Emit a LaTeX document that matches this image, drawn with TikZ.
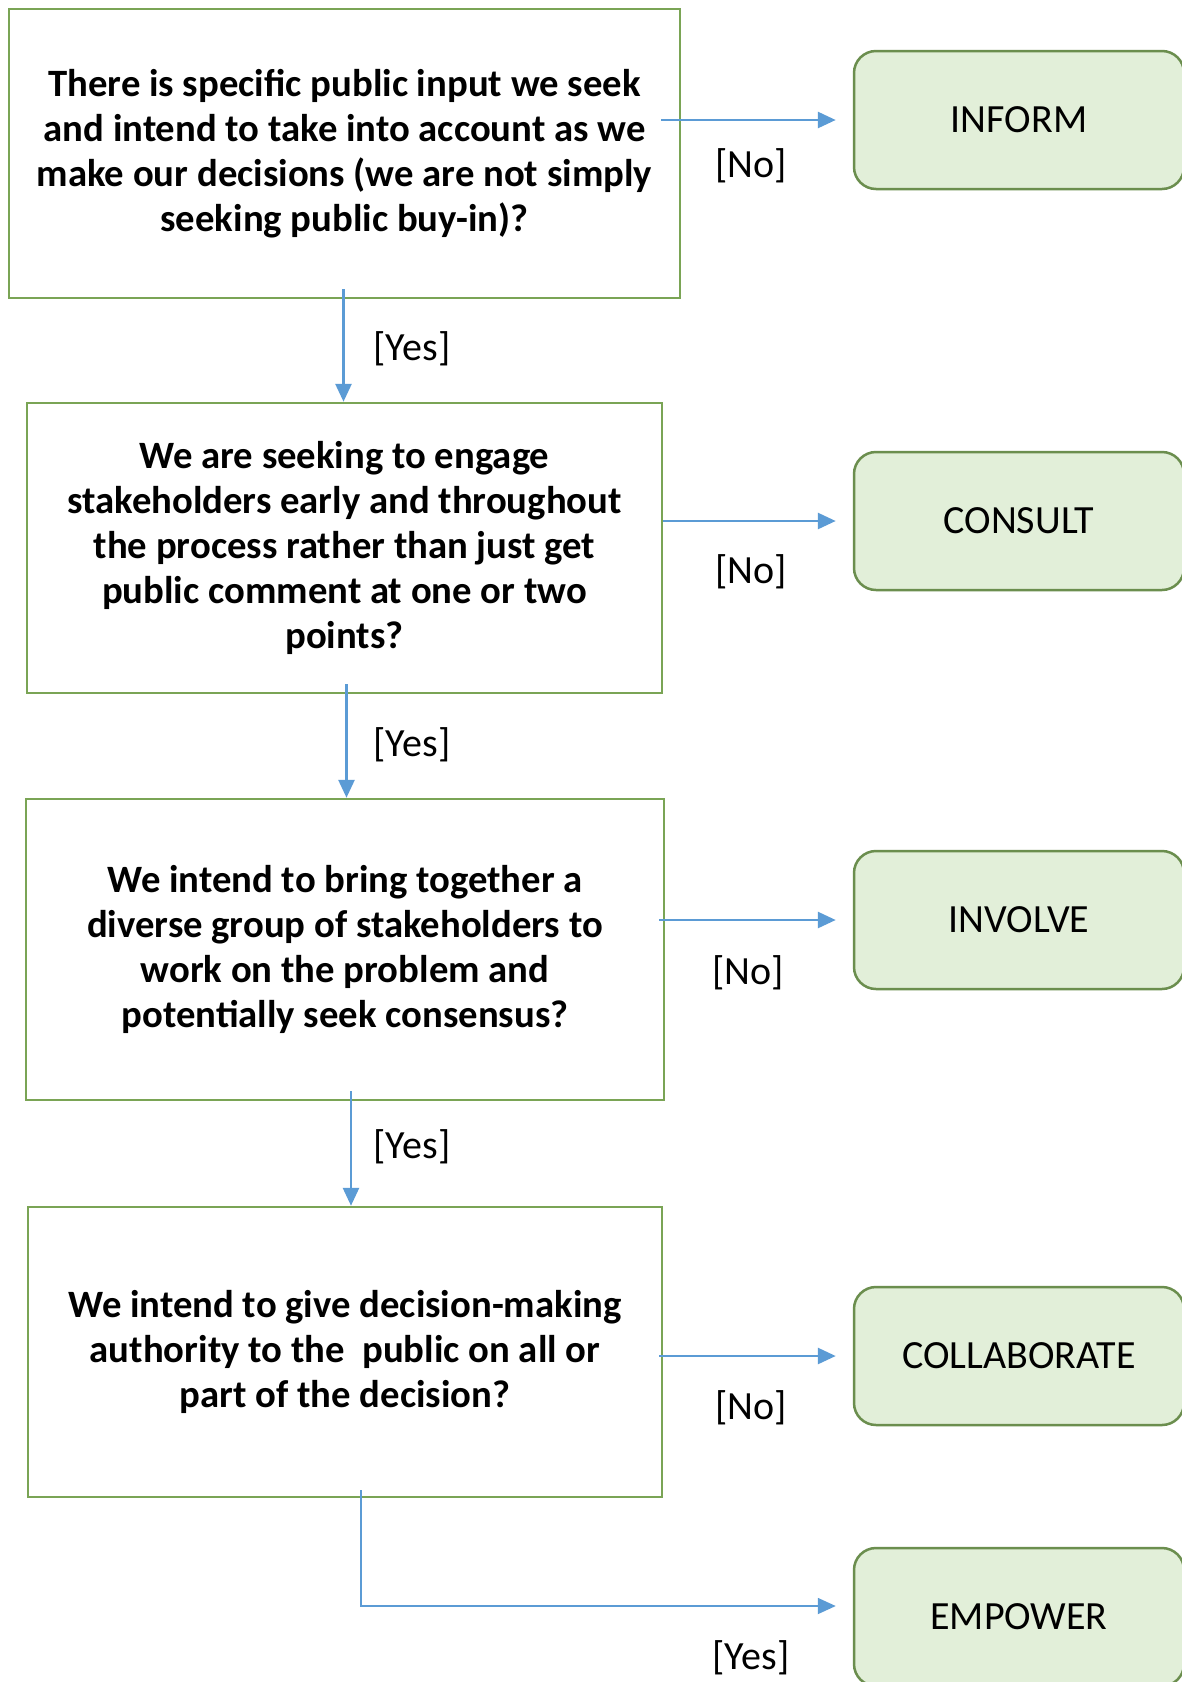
\documentclass[tikz,border=0pt]{standalone}
\usepackage{fontspec}
\setmainfont{Carlito}
\usetikzlibrary{arrows.meta}
\definecolor{qgreen}{HTML}{7AA455}
\definecolor{agreen}{HTML}{6B8E4E}
\definecolor{afill}{HTML}{E2EFD9}
\definecolor{flowblue}{HTML}{5B9BD5}
\tikzset{
  question/.style={draw=qgreen, line width=2.5pt, align=center,
    font=\fontsize{38.7}{45}\selectfont\bfseries, inner sep=0pt},
  answer/.style={draw=agreen, line width=2.5pt, fill=afill, rounded corners=22pt,
    minimum width=330pt, minimum height=138pt, font=\fontsize{40}{46}\selectfont},
  lbl/.style={font=\fontsize{40}{46}\selectfont, inner sep=0pt},
  flow/.style={draw=flowblue, line width=2.8pt, -{Triangle[length=18pt,width=16pt]}},
}
\begin{document}
\begin{tikzpicture}[x=1pt,y=-1pt]
   \useasboundingbox (0,0) rectangle (1182,1682);
   \fill[white] (0,0) rectangle (1182,1682);
   % questions
   \node[question, minimum width=671pt, minimum height=289pt] (q1) at (344.5,153.5)
     {There is specific public input we seek\\and intend to take into account as we\\make our decisions (we are not simply\\seeking public buy-in)?};
   \node[question, minimum width=635pt, minimum height=290pt] (q2) at (344.5,548)
     {We are seeking to engage\\stakeholders early and throughout\\the process rather than just get\\public comment at one or two\\points?};
   \node[question, minimum width=638pt, minimum height=301pt] (q3) at (345,949.5)
     {We intend to bring together a\\diverse group of stakeholders to\\work on the problem and\\potentially seek consensus?};
   \node[question, minimum width=634pt, minimum height=290pt] (q4) at (345,1352)
     {We intend to give decision-making\\authority to the \ public on all or\\part of the decision?};
   % answers
   \node[answer] (inform) at (1019,120) {INFORM};
   \node[answer] (consult) at (1019,521) {CONSULT};
   \node[answer] (involve) at (1019,920) {INVOLVE};
   \node[answer] (collab) at (1019,1356) {COLLABORATE};
   \node[answer] (empower) at (1019,1617) {EMPOWER};
   % arrows
   \draw[flow, shorten >=17pt] ([xshift=-20pt]q1.east |- inform) -- (inform);
   \draw[flow, shorten >=17pt] (q2.east |- consult) -- (consult);
   \draw[flow, shorten >=17pt] ([xshift=-6pt]q3.east |- involve) -- (involve);
   \draw[flow, shorten >=17pt] ([xshift=-4pt]q4.east |- collab) -- (collab);
   \draw[flow, shorten <=-10pt] ([xshift=-1pt]q1.south) -- ([xshift=-1pt]q1.south |- q2.north);
   \draw[flow, shorten <=-10pt] ([xshift=2pt]q2.south) -- ([xshift=2pt]q2.south |- q3.north);
   \draw[flow, shorten <=-10pt] ([xshift=6pt]q3.south) -- ([xshift=6pt]q3.south |- q4.north);
   \draw[flow, shorten >=17pt, line width=1.8pt] ([xshift=16pt,yshift=8pt]q4.south) |- ([yshift=11pt]empower.west);
   % labels
   \node[lbl] (no1) at (751,166) {[No]};
   \node[lbl] (no2) at (751,572) {[No]};
   \node[lbl] (no3) at (748,973) {[No]};
   \node[lbl] (no4) at (751,1408) {[No]};
   \node[lbl] (yes4) at (751,1658) {[Yes]};
   \node[lbl] (yes1) at (412,349) {[Yes]};
   \node[lbl] (yes2) at (412,745) {[Yes]};
   \node[lbl] (yes3) at (412,1147) {[Yes]};
\end{tikzpicture}
\end{document}
